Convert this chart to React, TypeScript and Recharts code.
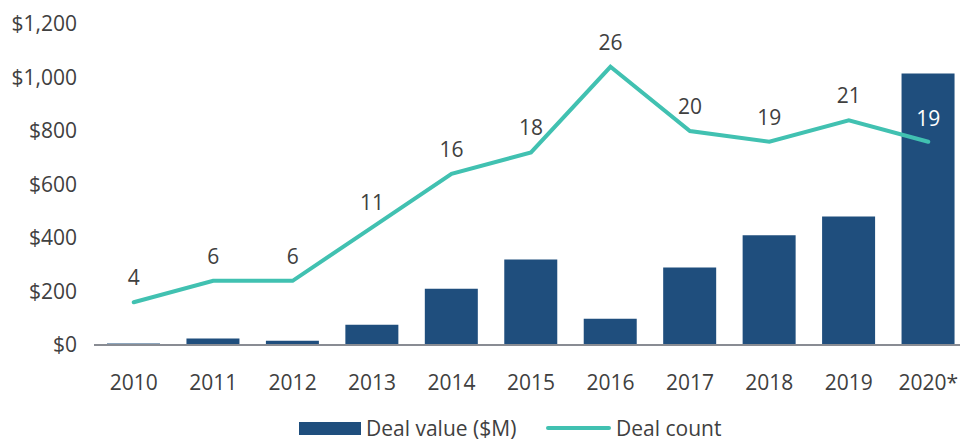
import React from "react";
import { ComposedChart, Bar, Line, XAxis, YAxis, LabelList } from "recharts";

const years = ["2010", "2011", "2012", "2013", "2014", "2015", "2016", "2017", "2018", "2019", "2020*"];
const dealValue = [6, 24, 16, 76, 210, 320, 98, 290, 410, 480, 1015];
const dealCount = [4, 6, 6, 11, 16, 18, 26, 20, 19, 21, 19];
const valueTicks = [0, 200, 400, 600, 800, 1000, 1200];

const data = years.map((y, i) => ({ year: y, value: dealValue[i], count: dealCount[i] }));

const FONT = "'Open Sans', 'DejaVu Sans', sans-serif";
const TEXT = "#404040";
const BAR = "#1F4E7D";
const LINE = "#41C1B1";
const FS = 21;
const FW = 400;

const CountLabel = (props: any) => {
  const { x, y, value, index } = props;
  const last = index === dealCount.length - 1;
  return (
    <text
      x={x}
      y={last ? y - 16 : y - 17}
      textAnchor="middle"
      fill={last ? "#FFFFFF" : TEXT}
      fontFamily={FONT}
      fontWeight={FW}
      fontSize={FS}
    >
      {value}
    </text>
  );
};

export default function App() {
  return (
    <div style={{ position: "absolute", left: 0, top: 0, width: 960, height: 441, overflow: "hidden", background: "#fff" }}>
      <ComposedChart
        width={975}
        height={441}
        data={data}
        margin={{ top: 24, right: 7, left: 0, bottom: 0 }}
      >
        <XAxis
          dataKey="year"
          height={96}
          tickLine={false}
          axisLine={{ stroke: "#898C93", strokeWidth: 2 }}
          tickMargin={24}
          tick={{ fill: TEXT, fontFamily: FONT, fontWeight: FW, fontSize: FS }}
          interval={0}
        />
        <YAxis
          yAxisId="left"
          width={94}
          domain={[0, 1200]}
          ticks={valueTicks}
          tickLine={false}
          axisLine={false}
          tickMargin={11}
          tickFormatter={(v: number) => "$" + v.toLocaleString("en-US")}
          tick={{ fill: TEXT, fontFamily: FONT, fontWeight: FW, fontSize: FS }}
        />
        <YAxis yAxisId="right" orientation="right" hide domain={[0, 30]} />
        <Bar yAxisId="left" dataKey="value" fill={BAR} barSize={53} isAnimationActive={false} />
        <Line
          yAxisId="right"
          dataKey="count"
          type="linear"
          stroke={LINE}
          strokeWidth={4}
          dot={false}
          strokeLinecap="round"
          isAnimationActive={false}
        >
          <LabelList dataKey="count" content={<CountLabel />} />
        </Line>
      </ComposedChart>
      <div style={{ position: "absolute", left: 299, top: 422, width: 62, height: 13, background: BAR }} />
      <div
        style={{
          position: "absolute", left: 366, top: 413, fontFamily: FONT, fontWeight: FW,
          fontSize: FS, color: TEXT, whiteSpace: "nowrap", lineHeight: "30px",
        }}
      >
        Deal value ($M)
      </div>
      <div style={{ position: "absolute", left: 546, top: 426, width: 65, height: 4, borderRadius: 2, background: LINE }} />
      <div
        style={{
          position: "absolute", left: 616, top: 413, fontFamily: FONT, fontWeight: FW,
          fontSize: FS, color: TEXT, whiteSpace: "nowrap", lineHeight: "30px",
        }}
      >
        Deal count
      </div>
    </div>
  );
}
